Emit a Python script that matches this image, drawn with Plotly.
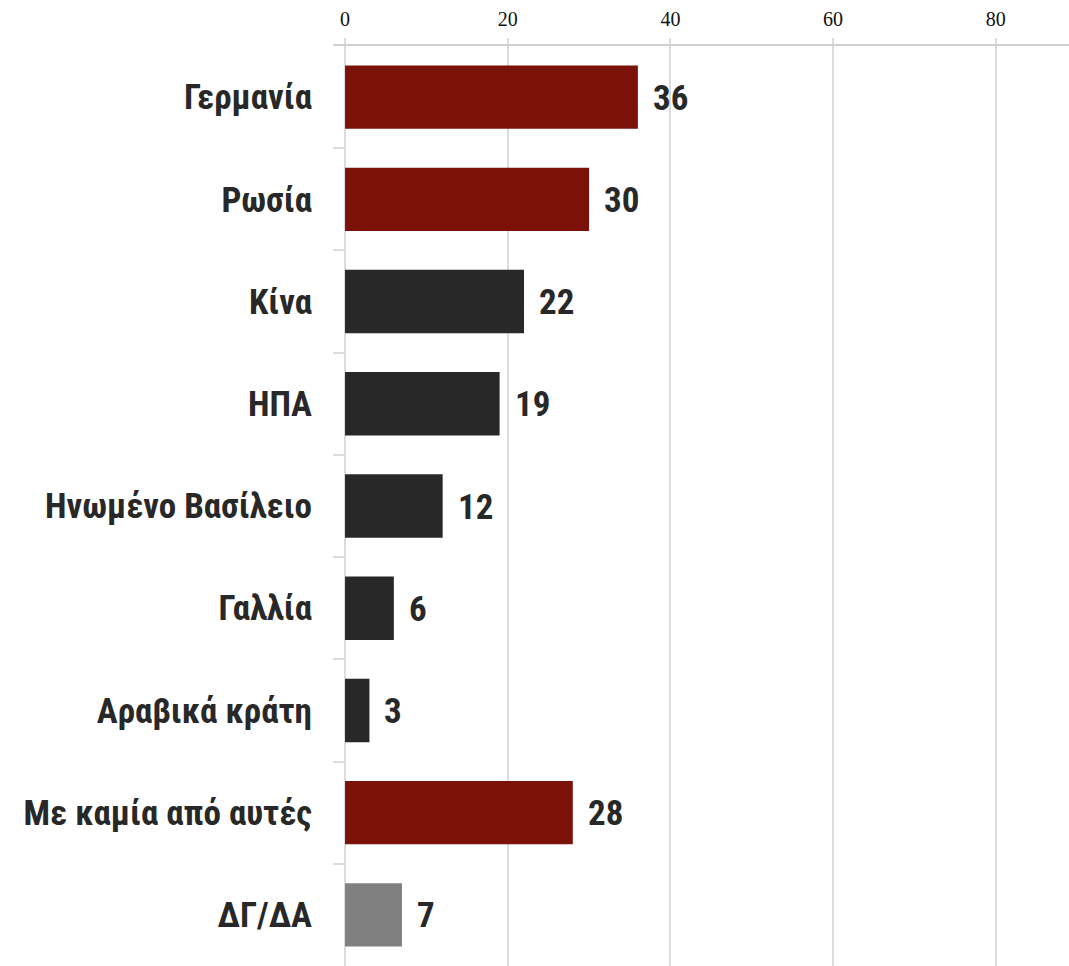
import plotly.graph_objects as go

categories = ["Γερμανία", "Ρωσία", "Κίνα", "ΗΠΑ", "Ηνωμένο Βασίλειο", "Γαλλία",
              "Αραβικά κράτη", "Με καμία από αυτές", "ΔΓ/ΔΑ"]
values = [36, 30, 22, 19, 12, 6, 3, 28, 7]
bar_colors = ["#7a120a", "#7a120a", "#282828", "#282828", "#282828", "#282828",
              "#282828", "#7a120a", "#808080"]
tick_vals = [0, 20, 40, 60, 80]

LABEL_FONT = "Liberation Sans Narrow, Arial Narrow, Roboto Condensed, sans-serif"
TEXT_COLOR = "#282828"

fig = go.Figure(go.Bar(
    x=values,
    y=categories,
    orientation="h",
    marker=dict(color=bar_colors, line=dict(width=0)),
    width=0.62,
    hoverinfo="x+y",
))

# value labels just right of each bar end
for cat, val in zip(categories, values):
    fig.add_annotation(
        x=val, y=cat, text=str(val), showarrow=False,
        xanchor="left", xshift=13, yshift=-1,
        font=dict(family=LABEL_FONT, size=35, color=TEXT_COLOR, weight="bold"),
    )

fig.update_layout(
    width=1069, height=966,
    margin=dict(l=333, r=0, t=46, b=0),
    paper_bgcolor="white", plot_bgcolor="white",
    showlegend=False,
    xaxis=dict(
        side="top", range=[-1.48, 89.0],
        tickvals=tick_vals, ticktext=[str(v) for v in tick_vals],
        tickfont=dict(family="Liberation Serif, serif", size=20, color="#111111"),
        showgrid=True, gridcolor="#dcdcdc", gridwidth=2,
        zeroline=True, zerolinecolor="#dcdcdc", zerolinewidth=2,
        showline=True, linecolor="#d0d0d0", linewidth=2,
        ticks="outside", ticklen=6, tickcolor="#dcdcdc", tickwidth=2,
        ticklabelstandoff=4,
        fixedrange=True,
    ),
    yaxis=dict(
        categoryorder="array", categoryarray=categories, autorange="reversed",
        tickfont=dict(family=LABEL_FONT, size=35, color=TEXT_COLOR, weight="bold"),
        showgrid=False, showline=False, zeroline=False,
        ticks="inside", ticklen=12, tickcolor="#dcdcdc", tickwidth=2,
        tickson="boundaries", ticklabelstandoff=20,
        fixedrange=True,
    ),
)

fig.write_html("out.html")
